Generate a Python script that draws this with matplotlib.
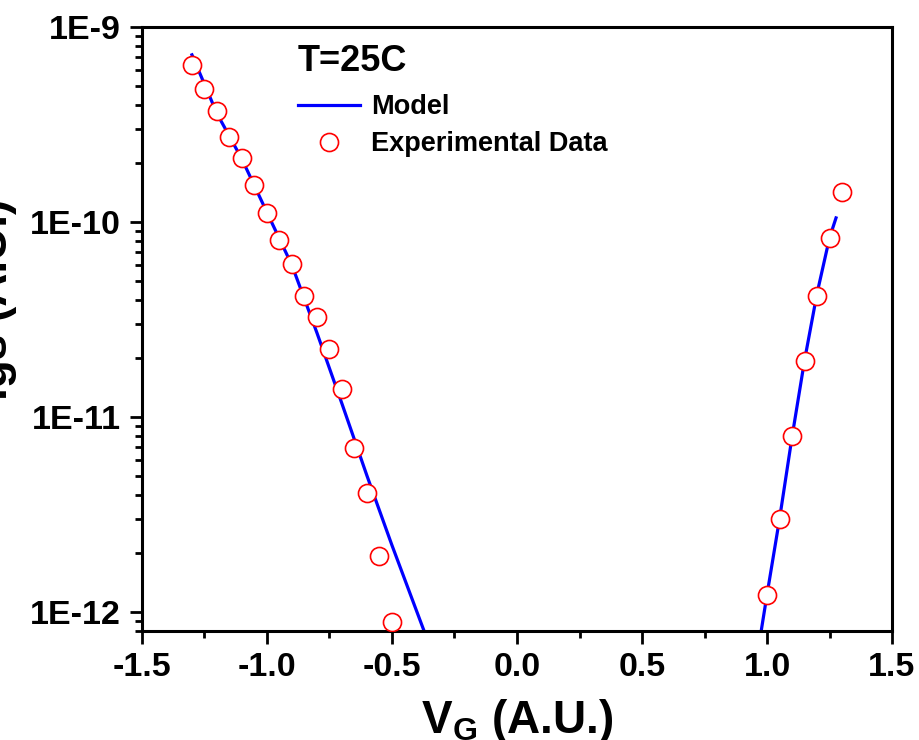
import matplotlib
matplotlib.use("Agg")
import matplotlib.pyplot as plt
import matplotlib.ticker as mticker
import numpy as np

plt.rcParams['font.family'] = ['Liberation Sans', 'DejaVu Sans']
plt.rcParams['font.weight'] = 'bold'
plt.rcParams['mathtext.fontset'] = 'custom'
plt.rcParams['mathtext.rm'] = 'Liberation Sans:bold'
plt.rcParams['mathtext.bf'] = 'Liberation Sans:bold'
plt.rcParams['mathtext.it'] = 'Liberation Sans:bold'

exp_x = [-1.30, -1.25, -1.20, -1.15, -1.10, -1.05, -1.00, -0.95, -0.90, -0.85,
         -0.80, -0.75, -0.70, -0.65, -0.60, -0.55, -0.50,
         1.00, 1.05, 1.10, 1.15, 1.20, 1.25, 1.30]
exp_y = [6.4e-10, 4.8e-10, 3.7e-10, 2.73e-10, 2.13e-10, 1.55e-10, 1.11e-10, 8.1e-11,
         6.1e-11, 4.17e-11, 3.26e-11, 2.23e-11, 1.39e-11, 6.9e-12, 4.1e-12, 1.94e-12,
         8.9e-13,
         1.22e-12, 3.0e-12, 8.0e-12, 1.94e-11, 4.2e-11, 8.3e-11, 1.43e-10]

# model curves
model_neg_x = [-1.30, -1.20, -1.10, -1.00, -0.90, -0.80, -0.70, -0.60, -0.50, -0.37]
model_neg_y = [7.2e-10, 3.6e-10, 2.1e-10, 1.12e-10, 6.0e-11, 2.7e-11, 1.17e-11,
               5.0e-12, 2.2e-12, 7.9e-13]
model_pos_x = [0.976, 1.00, 1.05, 1.10, 1.15, 1.20, 1.25, 1.276]
model_pos_y = [7.9e-13, 1.23e-12, 3.0e-12, 7.9e-12, 1.95e-11, 4.3e-11, 8.3e-11, 1.05e-10]

fig = plt.figure(figsize=(9.2, 7.4), dpi=100)
ax = fig.add_axes([0.1543, 0.1473, 0.8153, 0.8162])

ax.plot(model_neg_x, model_neg_y, color='#0000ff', lw=2.3, label='Model', zorder=2)
ax.plot(model_pos_x, model_pos_y, color='#0000ff', lw=2.3, zorder=2)
ax.plot(exp_x, exp_y, 'o', ms=13, mfc='white', mec='#ff0000', mew=1.2,
        label='Experimental Data', zorder=3)

ax.set_yscale('log')
ax.set_xlim(-1.5, 1.5)
ax.set_ylim(8.0e-13, 1e-9)

ax.xaxis.set_major_locator(mticker.MultipleLocator(0.5))
ax.xaxis.set_minor_locator(mticker.MultipleLocator(0.25))
ax.xaxis.set_major_formatter(mticker.FormatStrFormatter('%.1f'))
ax.yaxis.set_major_locator(mticker.LogLocator(base=10))
ax.yaxis.set_minor_locator(mticker.LogLocator(base=10, subs=np.arange(2, 10)))
ax.yaxis.set_major_formatter(mticker.FuncFormatter(lambda v, p: "1E%d" % round(np.log10(v))))
ax.yaxis.set_minor_formatter(mticker.NullFormatter())

ax.tick_params(which='both', direction='out', top=False, right=False, width=2)
ax.tick_params(which='major', length=9, labelsize=24.5, pad=6)
ax.tick_params(which='minor', length=5)
for s in ax.spines.values():
    s.set_linewidth(2.2)

ax.set_xlabel(r'V$_G$ (A.U.)', fontsize=33, fontweight='bold', labelpad=10)
ax.set_ylabel('Igs (A.U.)', fontsize=33, fontweight='bold')
ax.yaxis.set_label_coords(-0.167, 0.549)

leg = ax.legend(loc='upper left', bbox_to_anchor=(0.208, 0.972), frameon=False,
                title='T=25C', title_fontproperties={'weight': 'bold', 'size': 26},
                alignment='left', prop={'weight': 'bold', 'size': 19.5},
                handlelength=2.3, handletextpad=0.4, borderpad=0, borderaxespad=0,
                labelspacing=0.4)
# a little more room between the title and the entries
leg._legend_box.sep = 11

plt.savefig('out.png', dpi=100)
plt.close()
